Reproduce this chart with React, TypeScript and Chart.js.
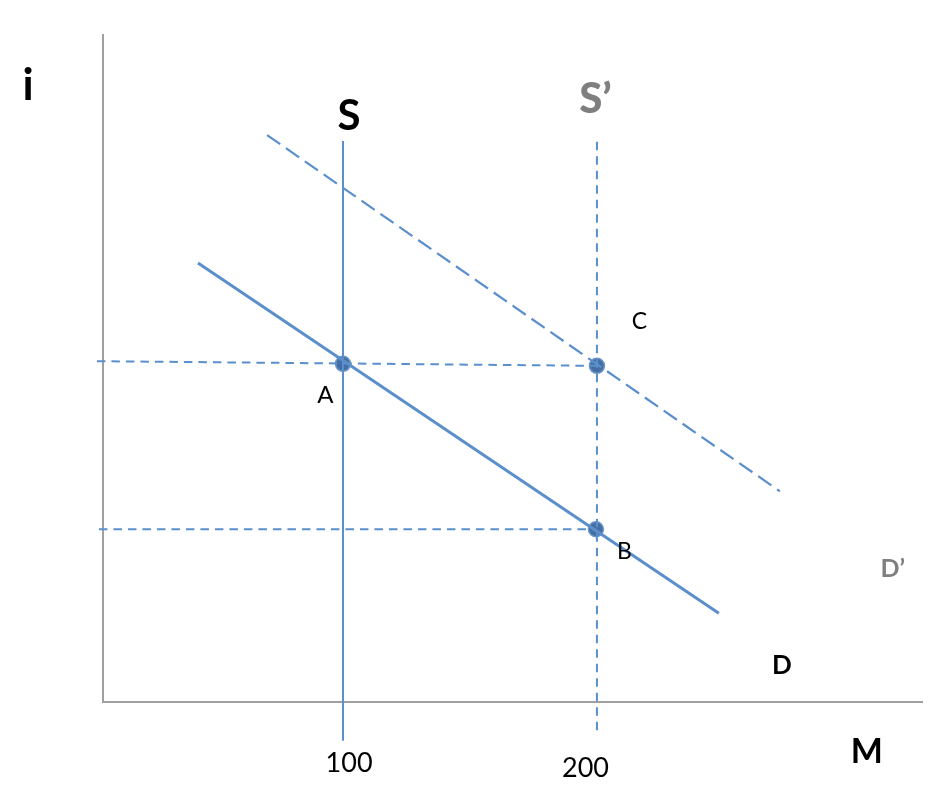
import React, { useEffect, useRef } from "react";
import { Chart, registerables } from "chart.js";

Chart.register(...registerables);

// Axis ranges (money M on x, interest rate i on y)
const xRange = [5.5, 328];
const yRange = [0, 10];

// Supply curves (vertical)
const supplyS = [
  { x: 100, y: 8.41 },
  { x: 100, y: -0.58 },
];
const supplySPrime = [
  { x: 200, y: 8.4 },
  { x: 200, y: -0.46 },
];

// Demand curves
const demandD = [
  { x: 42.9, y: 6.58 },
  { x: 248, y: 1.33 },
];
const demandDPrime = [
  { x: 70.1, y: 8.5 },
  { x: 272, y: 3.16 },
];

// Guide lines to the i-axis
const guideUpper = [
  { x: 3.1, y: 5.11 },
  { x: 200, y: 5.04 },
];
const guideLower = [
  { x: 3.9, y: 2.59 },
  { x: 199.6, y: 2.59 },
];

// Equilibrium points A, C, B
const equilibria = [
  { x: 100, y: 5.07 },
  { x: 200, y: 5.04 },
  { x: 199.6, y: 2.59 },
];

// Text labels: text, anchor (data units)
const labelTexts = ["i", "M", "S", "S\u2019", "A", "B", "C", "D", "D\u2019", "100", "200"];
const labelX = [-24, 306.3, 102.4, 199.4, 93.1, 210.8, 216.7, 272.8, 316.5, 102.4, 195.5];
const labelY = [9.03, -0.91, 8.58, 8.83, 4.48, 2.14, 5.59, 0.42, 1.87, -1.05, -1.12];

// Styles for each label (kept apart from data)
const labelStyles = [
  { font: "bold 44px Lato", color: "#000000" },
  { font: "bold 34px Lato", color: "#000000" },
  { font: "bold 42px Lato", color: "#000000" },
  { font: "900 42px Lato", color: "#7f7f7f" },
  { font: "24px Lato", color: "#000000" },
  { font: "23px Lato", color: "#000000" },
  { font: "23px Lato", color: "#000000" },
  { font: "bold 26px Lato", color: "#000000" },
  { font: "bold 25px Lato", color: "#7f7f7f" },
  { font: "27px Lato", color: "#000000" },
  { font: "27px Lato", color: "#000000" },
];

const BLUE = "#5b8fcc";

const labelPlugin = {
  id: "textLabels",
  afterDatasetsDraw(chart: any) {
    const { ctx, scales } = chart;
    ctx.save();
    ctx.textAlign = "center";
    ctx.textBaseline = "alphabetic";
    labelTexts.forEach((t, k) => {
      const px = scales.x.getPixelForValue(labelX[k]);
      const py = scales.y.getPixelForValue(labelY[k]);
      ctx.font = labelStyles[k].font;
      ctx.fillStyle = labelStyles[k].color;
      ctx.fillText(t, px, py);
    });
    ctx.restore();
  },
};

export default function App() {
  const ref = useRef<HTMLCanvasElement | null>(null);

  useEffect(() => {
    if (!ref.current) return;
    const lineDs = (data: any[], width: number, dash: number[]) => ({
      data,
      showLine: true,
      borderColor: BLUE,
      borderWidth: width,
      borderDash: dash,
      pointRadius: 0,
      pointHoverRadius: 0,
      fill: false,
      clip: false as any,
    });
    const chart = new Chart(ref.current, {
      type: "scatter",
      data: {
        datasets: [
          lineDs(guideUpper, 2, [8.5, 6]),
          lineDs(guideLower, 2, [8.5, 6]),
          lineDs(supplyS, 2, []),
          lineDs(supplySPrime, 2, [8.5, 6]),
          lineDs(demandD, 3, []),
          lineDs(demandDPrime, 2.2, [16, 7]),
          {
            data: equilibria,
            showLine: false,
            pointRadius: 7.5,
            pointHoverRadius: 7.5,
            pointBackgroundColor: "#436fa4",
            pointBorderColor: "#6a96ca",
            pointBorderWidth: 1.5,
            clip: false as any,
          },
        ],
      },
      options: {
        animation: false,
        responsive: false,
        events: [],
        layout: { padding: { left: 103, top: 35, right: 10, bottom: 102 } },
        plugins: {
          legend: { display: false },
          tooltip: { enabled: false },
        },
        scales: {
          x: {
            type: "linear",
            min: xRange[0],
            max: xRange[1],
            ticks: { display: false },
            grid: { display: false, drawTicks: false },
            border: { display: true, color: "#a0a0a0", width: 2 },
          },
          y: {
            type: "linear",
            min: yRange[0],
            max: yRange[1],
            ticks: { display: false },
            grid: { display: false, drawTicks: false },
            border: { display: true, color: "#a0a0a0", width: 2 },
          },
        },
      },
      plugins: [labelPlugin],
    });
    return () => chart.destroy();
  }, []);

  return (
    <div style={{ position: "absolute", left: 0, top: 0, width: 932, height: 804, background: "#ffffff" }}>
      <canvas ref={ref} width={932} height={804} style={{ display: "block" }} />
    </div>
  );
}
